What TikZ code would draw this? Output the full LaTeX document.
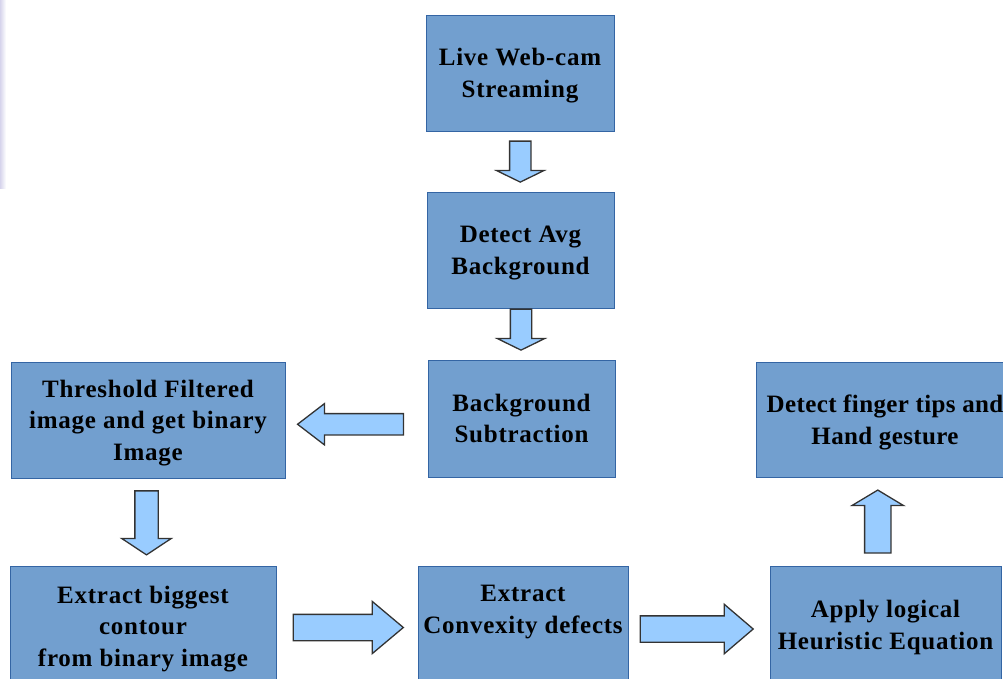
\documentclass[tikz,border=0pt]{standalone}
\usepackage{fontspec}
\setmainfont{Liberation Serif}
\usepackage{tikz}
\usetikzlibrary{calc,shapes.arrows}
\definecolor{BoxBlue}{RGB}{114,159,207}
\definecolor{BoxEdge}{RGB}{52,101,164}
\definecolor{ArrowBlue}{RGB}{153,204,255}
\definecolor{ArrowEdge}{RGB}{51,51,51}
\definecolor{Lavender}{RGB}{214,212,236}
\tikzset{
  stage/.style={draw=BoxEdge,fill=BoxBlue,line width=1pt,align=center,inner sep=0pt,
    font=\bfseries\fontsize{25}{31.5}\selectfont\addfontfeature{LetterSpace=3},
    text depth=-2pt},
  flowarrow/.style={single arrow,draw=ArrowEdge,fill=ArrowBlue,line width=1.3pt,line join=miter}
}

\begin{document}
\begin{tikzpicture}[x=1pt,y=-1pt]
\useasboundingbox (0,0) rectangle (1003,678);
\clip (0,0) rectangle (1003,678);
\shade[left color=Lavender,right color=white] (0,0) rectangle (6,188);
% stages
\node[stage,minimum width=188,minimum height=116] (live) at (520,73){Live Web-cam\\Streaming};
\node[stage,minimum width=187,minimum height=116] (avg) at (520.5,250){Detect Avg\\Background};
\node[stage,minimum width=187,minimum height=117] (sub) at (521.5,418.5){Background\\Subtraction};
\node[stage,minimum width=274,minimum height=116] (thr) at (148,420){Threshold Filtered\\image and get binary\\Image};
\node[stage,minimum width=266,minimum height=120] (big) at (143,626){Extract biggest\\contour\\from binary image};
\node[stage,minimum width=210,minimum height=118] (cvx) at (523,625){Extract\\Convexity defects\\~};
\node[stage,minimum width=231,minimum height=118] (apply) at (885.5,625){Apply logical\\Heuristic Equation};
\node[stage,minimum width=258,minimum height=115,font=\bfseries\fontsize{25}{31.5}\selectfont\addfontfeature{LetterSpace=1.5}] (tips) at (885,419.5){Detect finger tips and\\Hand gesture};
% block arrows between stages
\node[flowarrow,rotate=-90,minimum height=41,inner sep=10,single arrow head extend=13,single arrow tip angle=128] (a1) at ($(live.south)!0.5!(avg.north)+(0,-2.5)$){};
\node[flowarrow,rotate=-90,minimum height=41,inner sep=10,single arrow head extend=13,single arrow tip angle=128] (a2) at ($(avg.south)!0.5!(sub.north)+(0,-7)$){};
\node[flowarrow,rotate=180,minimum height=106,inner sep=10,single arrow head extend=10,single arrow tip angle=75] (a3) at ($(thr.east)!0.5!(sub.west)+(1,5)$){};
\node[flowarrow,rotate=-90,minimum height=64,inner sep=11,single arrow head extend=13,single arrow tip angle=113] (a4) at ($(thr.south)!0.5!(big.north)+(1,-3)$){};
\node[flowarrow,minimum height=110,inner sep=12.5,single arrow head extend=13,single arrow tip angle=80] (a5) at ($(big.east)!0.5!(cvx.west)+(-6.5,2)$){};
\node[flowarrow,minimum height=113,inner sep=12.5,single arrow head extend=11.5,single arrow tip angle=81] (a6) at ($(cvx.east)!0.5!(apply.west)+(-10,4)$){};
\node[flowarrow,rotate=90,minimum height=63,inner sep=12.5,single arrow head extend=12.5,single arrow tip angle=118] (a7) at ($(apply.north)!0.5!(tips.south)+(-7.5,4)$){};
\end{tikzpicture}
\end{document}
